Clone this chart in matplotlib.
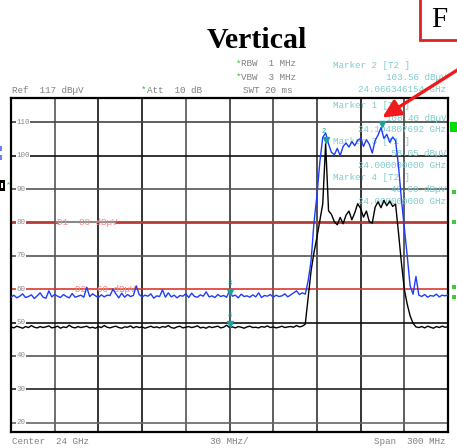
import numpy as np
import matplotlib
matplotlib.use("Agg")
import matplotlib.pyplot as plt
from matplotlib.patches import Rectangle, FancyArrowPatch

# sweep: 24 GHz centre, 300 MHz span, 2 MHz per point (offset in MHz)
freq_mhz = np.arange(-150, 151, 2)

# trace 1 (blue, max hold) in dBuV
trace1 = [
    57.6, 58.2, 57.4, 57.9, 58.6, 57.5, 57.8, 58.3, 57.2, 58.0,
    58.9, 57.6, 57.3, 59.5, 57.7, 58.4, 57.9, 57.5, 58.4, 57.8,
    57.4, 58.7, 57.6, 57.9, 58.2, 57.6, 60.6, 57.8, 58.6, 58.0,
    57.5, 58.3, 57.7, 58.2, 58.1, 60.0, 58.6, 57.4, 58.8, 57.6,
    58.4, 57.8, 58.1, 61.0, 58.4, 57.7, 58.2, 57.9, 58.6, 57.3,
    58.0, 57.8, 59.8, 57.6, 58.9, 57.7, 58.2, 57.4, 58.1, 57.9,
    58.6, 57.5, 58.8, 57.8, 57.6, 58.3, 57.9, 59.2, 57.7, 58.0,
    57.5, 58.4, 57.8, 58.1, 57.6, 59.5, 57.9, 58.2, 57.4, 58.5,
    57.8, 58.0, 57.6, 58.3, 57.7, 58.9, 57.5, 58.1, 57.9, 58.4,
    57.6, 58.2, 57.8, 58.0, 58.6, 57.7, 58.3, 58.9, 59.5, 58.4,
    58.9,
    58.5, 62.5, 68.5, 80.0, 88.0, 98.0, 105.5, 106.8, 103.5, 101.0,
    100.3, 102.2, 100.0, 102.8, 103.8, 102.6, 104.2, 103.0, 104.6, 105.2,
    102.8, 104.8, 103.4, 100.8, 104.6, 106.2, 108.4, 105.2, 106.4, 104.0,
    105.6, 104.5, 97.0, 87.0, 78.5, 70.0, 61.0, 58.5, 63.8, 58.2,
    57.8, 58.4, 57.6, 58.1, 57.9, 58.5, 57.7, 58.2, 58.0, 58.3,
]

# trace 2 (black, clear write) in dBuV
trace2 = [
    48.7, 48.4, 48.9, 48.6, 48.3, 48.8, 48.5, 49.1, 48.6, 48.4,
    48.8, 48.5, 48.7, 49.0, 48.4, 48.6, 48.9, 48.3, 48.7, 48.5,
    49.2, 48.6, 48.4, 48.8, 48.5, 48.7, 48.9, 48.4, 48.6, 48.3,
    48.8, 48.5, 49.1, 48.6, 48.4, 48.7, 48.9, 48.5, 48.3, 48.7,
    48.6, 49.0, 48.4, 48.8, 48.5, 48.7, 48.3, 48.6, 48.9, 48.5,
    48.7, 48.4, 48.8, 48.6, 49.1, 48.5, 48.3, 48.7, 48.9, 48.4,
    48.6, 48.8, 48.5, 48.7, 49.0, 48.4, 48.6, 48.3, 48.8, 48.5,
    48.7, 48.9, 48.4, 48.6, 49.2, 48.5, 48.7, 48.4, 48.8, 48.6,
    48.3, 48.7, 48.9, 48.5, 48.6, 48.4, 48.8, 48.6, 49.0, 48.5,
    48.7, 48.4, 48.6, 48.9, 48.5, 48.7, 48.8, 48.6, 49.1, 48.7,
    48.9,
    49.5, 57.5, 65.5, 71.0, 75.5, 80.5, 85.5, 103.56, 83.5, 82.4,
    80.2, 79.3, 81.5, 79.6, 82.2, 83.4, 80.8, 82.9, 85.6, 84.2,
    81.6, 83.4, 80.2, 79.8, 84.6, 86.2, 84.4, 86.6, 85.0, 86.4,
    84.8, 85.5, 77.0, 68.0, 60.0, 55.5, 52.0, 49.8, 48.7, 48.5,
    48.8, 48.4, 48.9, 48.6, 48.3, 48.8, 48.5, 48.9, 48.6, 48.7,
]

display_lines = [80, 60]
display_labels = ["D1  80 dB\u00b5V", "D2  60 dB\u00b5V"]

# marker: (label, freq offset MHz, level dBuV, trace)
markers = [("1", 104.807692, 108.40, "T1"),
           ("2", 66.346154, 103.56, "T2"),
           ("3", 0.0, 58.05, "T1"),
           ("4", 0.0, 48.60, "T2")]

W, H = 457, 448
fig = plt.figure(figsize=(W / 100, H / 100), dpi=100)
ax = fig.add_axes([11 / W, 16 / H, 437 / W, 333.7 / H])
ax.set_xlim(-150, 150)
ax.set_ylim(17.2, 117.2)
ax.set_xticks([])
ax.set_yticks([])
for sp in ax.spines.values():
    sp.set_linewidth(1.6)
    sp.set_color("black")

MONO = "Liberation Mono"


def put(x, y, s, color="#808080", size=6.7, ha="left", **kw):
    # place text by pixel position on the figure
    return ax.text(x / W, 1 - y / H, s, transform=fig.transFigure, color=color,
                   fontsize=size, family=MONO, ha=ha, va="center",
                   clip_on=False, **kw)


def block(x, y, w, h, color):
    fig.patches.append(Rectangle((x / W, 1 - (y + h) / H), w / W, h / H,
                                 transform=fig.transFigure, facecolor=color,
                                 edgecolor="none"))


# graticule
vcols = ["#555555", "#111111", "#111111", "#555555", "#333333",
         "#444444", "#333333", "#111111", "#444444"]
for xv, c in zip(range(-120, 121, 30), vcols):
    ax.axvline(xv, color=c, lw=1.2, zorder=1)
hgrid = {110: "#444444", 100: "#111111", 90: "#555555", 70: "#555555",
         50: "#111111", 40: "#555555", 30: "#222222", 20: "#666666"}
for yv, c in hgrid.items():
    ax.axhline(yv, color=c, lw=1.2, zorder=1)

# display lines
ax.axhline(display_lines[0], xmin=0, xmax=0.105, color="#b83a34", lw=2.0, zorder=1.2)
ax.axhline(display_lines[0], xmin=0.105, xmax=0.24, color="#888888", lw=1.5, zorder=1.2)
ax.axhline(display_lines[0], xmin=0.24, xmax=1, color="#b83a34", lw=2.0, zorder=1.2)
ax.axhline(display_lines[1], color="#d83a30", lw=1.2, zorder=1.2)
put(57, 222, display_labels[0], color="#f08a8a", zorder=1.5)
put(75, 289.5, display_labels[1], color="#f08a8a", zorder=1.5)

# level labels inside the graticule
for yv in range(20, 111, 10):
    ax.text(16.5 / W, 1 - (98.3 + (117.2 - yv) * 3.337) / H, str(yv),
            transform=fig.transFigure, fontsize=5.4, family=MONO,
            color="#8a8a8a", ha="left", va="center", zorder=1.6,
            bbox=dict(facecolor="white", edgecolor="none", pad=0.3))

# marker readouts (drawn under the traces)
tc = "#80cccc"
readout = [
    (65, "Marker 2 [T2 ]", "103.56 dB\u00b5V", "24.066346154 GHz"),
    (106, "Marker 1 [T1 ]", "108.40 dB\u00b5V", "24.104807692 GHz"),
    (142, "Marker 3 [T1 ]", "58.05 dB\u00b5V", "24.000000000 GHz"),
    (177, "Marker 4 [T2 ]", "48.60 dB\u00b5V", "24.000000000 GHz"),
]
for y0, head, lvl, fr in readout:
    put(333, y0, head, color=tc, zorder=1.7)
    put(446, y0 + 12, lvl, color=tc, ha="right", zorder=1.7)
    put(446, y0 + 24, fr, color=tc, ha="right", zorder=1.7)

# traces
ax.plot(freq_mhz, trace2, color="black", lw=1.0, zorder=3)
ax.plot(freq_mhz, trace1, color="#1c3cff", lw=1.0, zorder=3.5)

# marker symbols
for lab, f, lvl, tr in markers:
    ax.plot(f, lvl + 1.0, marker="v", ms=4, color="#1aa0a0", zorder=4, clip_on=False)
    if lab != "1":
        ax.text(f - (2 if lab == "2" else 0), lvl + 3.6, lab, fontsize=5,
                family=MONO, color="#1aa0a0", ha="center", va="center", zorder=4)

# header text
put(12, 90, "Ref  117 dB\u00b5V")
put(141, 90, "*", color="#20d020")
put(147, 90, "Att  10 dB")
put(243, 90, "SWT 20 ms")
put(236, 64, "*", color="#20d020")
put(241, 64, "RBW  1 MHz")
put(236, 77, "*", color="#20d020")
put(241, 77, "VBW  3 MHz")

# footer text
put(12, 441.5, "Center  24 GHz")
put(229, 441.5, "30 MHz/", ha="center")
put(446, 441.5, "Span  300 MHz", ha="right")

# screen-edge status marks
block(0, 146, 2, 5, "#6a7cff")
block(0, 155, 2, 5, "#6a7cff")
block(0, 180, 5, 11, "black")
block(1, 183, 2, 5, "white")
put(6, 185, "*", color="#20d020", size=6)
block(450, 122, 7, 10, "#00dd00")
for yy in (192, 222, 287, 297):
    block(452, yy - 2, 4, 4, "#40c840")

# title
fig.text(257 / W, 1 - 40 / H, "Vertical", family="Liberation Serif",
         fontweight="bold", fontsize=21.5, ha="center", va="center")

# figure tag box
fig.patches.append(Rectangle((419.5 / W, 1 - 40 / H), 60 / W, 60 / H,
                             transform=fig.transFigure, facecolor="white",
                             edgecolor="#e02020", lw=2))
fig.text(439 / W, 1 - 20 / H, "F", family="Liberation Serif",
         fontsize=21, ha="center", va="center")

# arrow pointing at marker 1
fig.patches.append(FancyArrowPatch((470 / W, 1 - 62 / H), (380 / W, 1 - 119 / H),
                                   transform=fig.transFigure,
                                   arrowstyle="-|>,head_length=4.5,head_width=2.2",
                                   mutation_scale=2.4, color="#f01a1a", lw=2.4,
                                   zorder=10))

fig.savefig("out.png", dpi=100)
